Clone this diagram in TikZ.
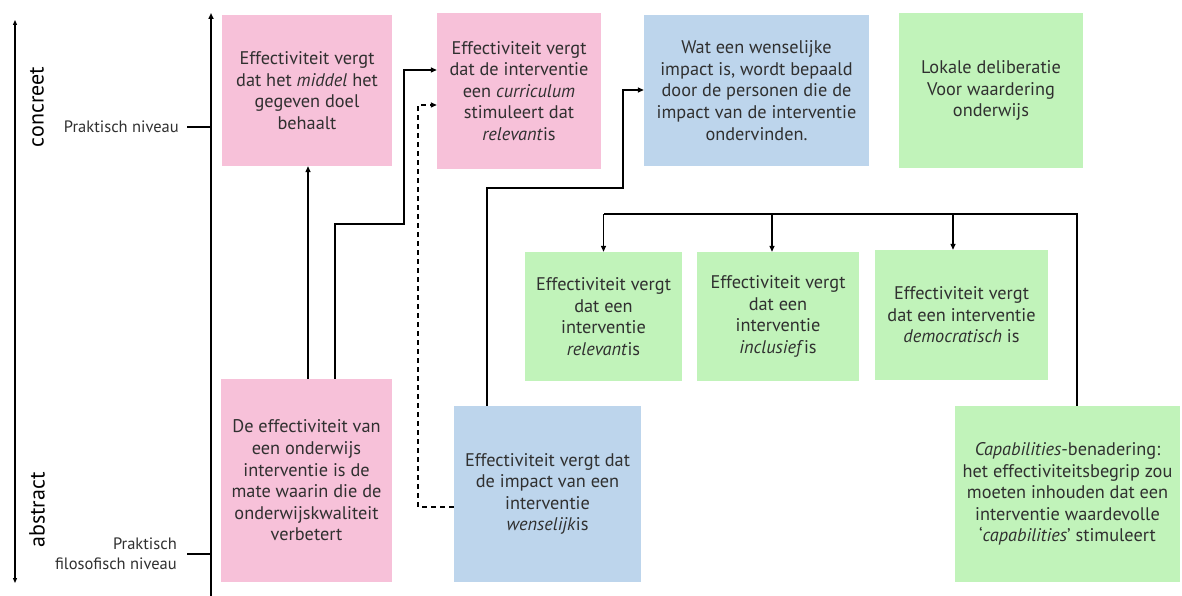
\documentclass[tikz,border=0pt]{standalone}
\usepackage{fontspec}
\setmainfont{PT Sans}
\usetikzlibrary{arrows.meta}
\definecolor{boxpink}{RGB}{247,193,217}
\definecolor{boxblue}{RGB}{189,213,236}
\definecolor{boxgreen}{RGB}{193,243,186}
\definecolor{txt}{RGB}{48,48,48}

\begin{document}
\begin{tikzpicture}[x=1pt,y=-1pt,
  card/.style={rectangle, inner sep=0pt, align=center, text=txt,
    font=\fontsize{18.3}{21.6}\selectfont},
  pinkcard/.style={card, fill=boxpink},
  bluecard/.style={card, fill=boxblue},
  greencard/.style={card, fill=boxgreen},
  link/.style={line width=1.3pt, black},
  arr/.style={link, -{Triangle[length=6pt,width=5pt]}},
  dasharr/.style={arr, dash pattern=on 5pt off 4pt},
  lbl/.style={text=txt, font=\fontsize{16.5}{20}\selectfont, align=right, anchor=east},
  side/.style={text=black, font=\fontsize{22}{24}\selectfont, rotate=90}
]
\useasboundingbox (0,0) rectangle (1182,596);

% scale on the left: concreet -- abstract
\draw[line width=1.1pt, {Triangle[length=5pt,width=4pt]}-{Triangle[length=5pt,width=4pt]}] (15,20) -- (15,583);
\node[side] (concreet) at (37,107) {concreet};
\node[side] (abstract) at (37,510) {abstract};

% main level axis
\draw[line width=2pt, -{Triangle[length=6pt,width=5pt]}] (211,596) -- (211,13);
\coordinate (axtop) at (211,127);
\coordinate (axbot) at (211,554);
\node[lbl, inner xsep=8pt] (lvlprak) at (187,127) {Praktisch niveau};
\node[lbl, inner xsep=10pt] (lvlfil) at (187,554) {Praktisch\\filosofisch niveau};
\draw[link] (lvlprak.east) -- (axtop);
\draw[link] (lvlfil.east) -- (axbot);

% top row
\node[pinkcard, minimum width=170pt, minimum height=151pt] (p1) at (307,90.5)
  {Effectiviteit vergt\\dat het \textit{middel} het\\gegeven doel\\behaalt};
\node[pinkcard, minimum width=164pt, minimum height=156pt] (p2) at (519,91)
  {Effectiviteit vergt\\dat de interventie\\een \textit{curriculum}\\stimuleert dat\\\textit{relevant}is};
\node[bluecard, minimum width=225pt, minimum height=151pt] (b1) at (756.5,90.5)
  {Wat een wenselijke\\impact is, wordt bepaald\\door de personen die de\\impact van de interventie\\ondervinden.};
\node[greencard, minimum width=184pt, minimum height=155pt] (g0) at (991,90.5)
  {Lokale deliberatie\\Voor waardering\\onderwijs};

% middle row
\node[greencard, minimum width=157pt, minimum height=129pt] (gA) at (603.5,316.5)
  {Effectiviteit vergt\\dat een\\interventie\\\textit{relevant}is};
\node[greencard, minimum width=162pt, minimum height=129pt] (gB) at (778,316.5)
  {Effectiviteit vergt\\dat een\\interventie\\\textit{inclusief}is};
\node[greencard, minimum width=173pt, minimum height=130pt] (gC) at (961.5,315)
  {Effectiviteit vergt\\dat een interventie\\\textit{democratisch} is};

% bottom row
\node[pinkcard, minimum width=171pt, minimum height=203pt] (p0) at (306.5,480.5)
  {De effectiviteit van\\een onderwijs\\interventie is de\\mate waarin die de\\onderwijskwaliteit\\verbetert};
\node[bluecard, minimum width=187pt, minimum height=176pt] (b0) at (547.5,494)
  {Effectiviteit vergt dat\\de impact van een\\interventie\\\textit{wenselijk}is};
\node[greencard, minimum width=225pt, minimum height=176pt] (gD) at (1067.5,494)
  {\textit{Capabilities}-benadering:\\het effectiviteitsbegrip zou\\moeten inhouden dat een\\interventie waardevolle\\‘\textit{capabilities}’ stimuleert};

% connectors from the definition
\draw[arr] (p0.north -| 308,0) -- (p1.south -| 308,0);
\draw[arr] (p0.north -| 335,0) |- (404,224) |- (p2.west |- 0,70);

% connectors from the wenselijk box
\draw[dasharr] (b0.west |- 0,507) -| (418,105) -- (p2.west |- 0,105);
\draw[arr] (b0.north -| 487,0) |- (623,188) |- (b1.west |- 0,90);

% capabilities tree
\coordinate (tr) at (1077,214);
\draw[link] (gD.north -| tr) -- (tr) -- (604,214);
\draw[arr] (gA.north |- tr) -- (gA.north);
\draw[arr] (772,214) -- (gB.north -| 772,0);
\draw[arr] (953,214) -- (gC.north -| 953,0);
\end{tikzpicture}
\end{document}
